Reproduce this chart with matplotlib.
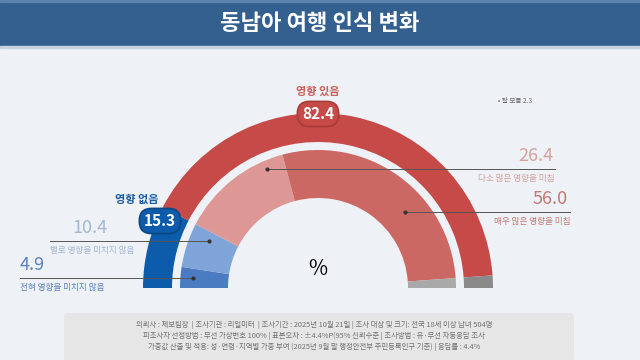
import matplotlib.pyplot as plt
from matplotlib.patches import Rectangle, FancyBboxPatch

plt.rcParams['font.family'] = ['Noto Sans CJK KR', 'DejaVu Sans']

title = '동남아 여행 인식 변화'

# outer ring: 영향 없음 / 영향 있음 / 잘 모름
outer_labels = ['영향 없음', '영향 있음', '잘 모름']
outer_values = [15.3, 82.4, 2.3]
outer_colors = ['#0d5bab', '#c64a47', '#8a8a8a']

# inner ring, from left to right
inner_labels = ['전혀 영향을 미치지 않음', '별로 영향을 미치지 않음',
                '다소 많은 영향을 미침', '매우 많은 영향을 미침', '잘 모름']
inner_values = [4.9, 10.4, 26.4, 56.0, 2.3]
inner_colors = ['#4b7cc2', '#7fa4d8', '#dd9794', '#cc6864', '#a9a9a9']

footer = ['의뢰사 : 제보팀장  | 조사기관 : 리얼미터  | 조사기간 : 2025년 10월 21일 | 조사 대상 및 크기: 전국 18세 이상 남녀 504명',
          '피조사자 선정방법 : 무선 가상번호 100% | 표본오차 : ±4.4%P(95% 신뢰수준 | 조사방법 : 유·무선 자동응답 조사',
          '가중값 산출 및 적용: 성·연령·지역별 가중 부여 (2025년 9월 말 행정안전부 주민등록인구 기준) | 응답률 : 4.4%']

W, H = 640, 360
fig = plt.figure(figsize=(6.4, 3.6), dpi=100)
fig.patch.set_facecolor('#eef1f6')
ax = fig.add_axes([0, 0, 1, 1])


def Y(y):
    # pixel row -> data y
    return H - y


cx, cy = 318, Y(288)

# semicircle: pie drawn clockwise from the left, bottom half hidden
ov = outer_values + [sum(outer_values)]
oc = outer_colors + ['none']
ax.pie(ov, colors=oc, startangle=180, counterclock=False, radius=175,
       center=(cx, cy), wedgeprops=dict(width=29, linewidth=0), frame=True)
iv = inner_values + [sum(inner_values)]
ic = inner_colors + ['none']
ax.pie(iv, colors=ic, startangle=180, counterclock=False, radius=138,
       center=(cx, cy), wedgeprops=dict(width=48, linewidth=0), frame=True)

ax.set_xlim(0, W)
ax.set_ylim(0, H)
ax.set_aspect('auto')
ax.axis('off')

# title bar
ax.add_patch(Rectangle((0, Y(46)), W, 46, color='#33608f', zorder=5))
ax.add_patch(Rectangle((0, Y(2)), W, 2, color='#5a83b0', zorder=6))
ax.add_patch(Rectangle((0, Y(48)), W, 2, color='#c9d2de', zorder=6))
ax.text(W / 2, Y(23), title, color='white', fontsize=16, fontweight='bold',
        ha='center', va='center', zorder=7)

# footer box
ax.add_patch(FancyBboxPatch((64, Y(362)), 510, 49,
                            boxstyle='round,pad=0,rounding_size=4',
                            fc='#e6e6e7', ec='none', zorder=1))
for i, line in enumerate(footer):
    ax.text(314, Y(325 + i * 11), line, fontsize=5.3, color='#707070',
            ha='center', va='center', zorder=2)

# badges
ax.text(cx, Y(91), outer_labels[1], color='#c9605c', fontsize=8,
        fontweight='bold', ha='center', va='center')
ax.text(cx, Y(114), f'{outer_values[1]:.1f}', color='white', fontsize=11,
        fontweight='bold', ha='center', va='center', zorder=4,
        bbox=dict(boxstyle='round,pad=0.3,rounding_size=0.8',
                  fc='#c64a47', ec='#a83a38', lw=1.2))
ax.text(137, Y(199), outer_labels[0], color='#1f5ea3', fontsize=8,
        fontweight='bold', ha='center', va='center')
ax.text(160, Y(221), f'{outer_values[0]:.1f}', color='white', fontsize=11,
        fontweight='bold', ha='center', va='center', zorder=4,
        bbox=dict(boxstyle='round,pad=0.3,rounding_size=0.8',
                  fc='#0d5bab', ec='#0a4683', lw=1.2))

ax.text(498, Y(101), f'• {outer_labels[2]} {outer_values[2]}', color='#666666',
        fontsize=4.8, ha='left', va='center')

# callouts: (value, label, dot x, dot y, line end x, number x, label x, colors, align)
callouts = [
    (inner_values[1], inner_labels[1], 209, 241, 50, 72, 50, '#a3b6d2', 'left'),
    (inner_values[0], inner_labels[0], 193, 278, 20, 20, 20, '#5a80bf', 'left'),
    (inner_values[2], inner_labels[2], 267, 169, 555, 553, 555, '#d5a09e', 'right'),
    (inner_values[3], inner_labels[3], 405, 212, 570, 568, 570, '#c47874', 'right'),
]
for val, lab, dx, dy, ex, nx, lx, col, al in callouts:
    ax.plot([dx, ex], [Y(dy), Y(dy)], color='#555555', lw=0.7, zorder=3)
    ax.plot(dx, Y(dy), 'o', color='#333333', ms=2, zorder=3)
    ax.text(nx, Y(dy - 13), f'{val:.1f}', color=col, fontsize=13,
            ha=al, va='center')
    ax.text(lx, Y(dy + 9), lab, color=col, fontsize=6.2, ha=al, va='center')

ax.text(cx, Y(269), '%', color='black', fontsize=15, fontweight='medium',
        ha='center', va='center')

fig.savefig('out.png', dpi=100, facecolor=fig.get_facecolor())
